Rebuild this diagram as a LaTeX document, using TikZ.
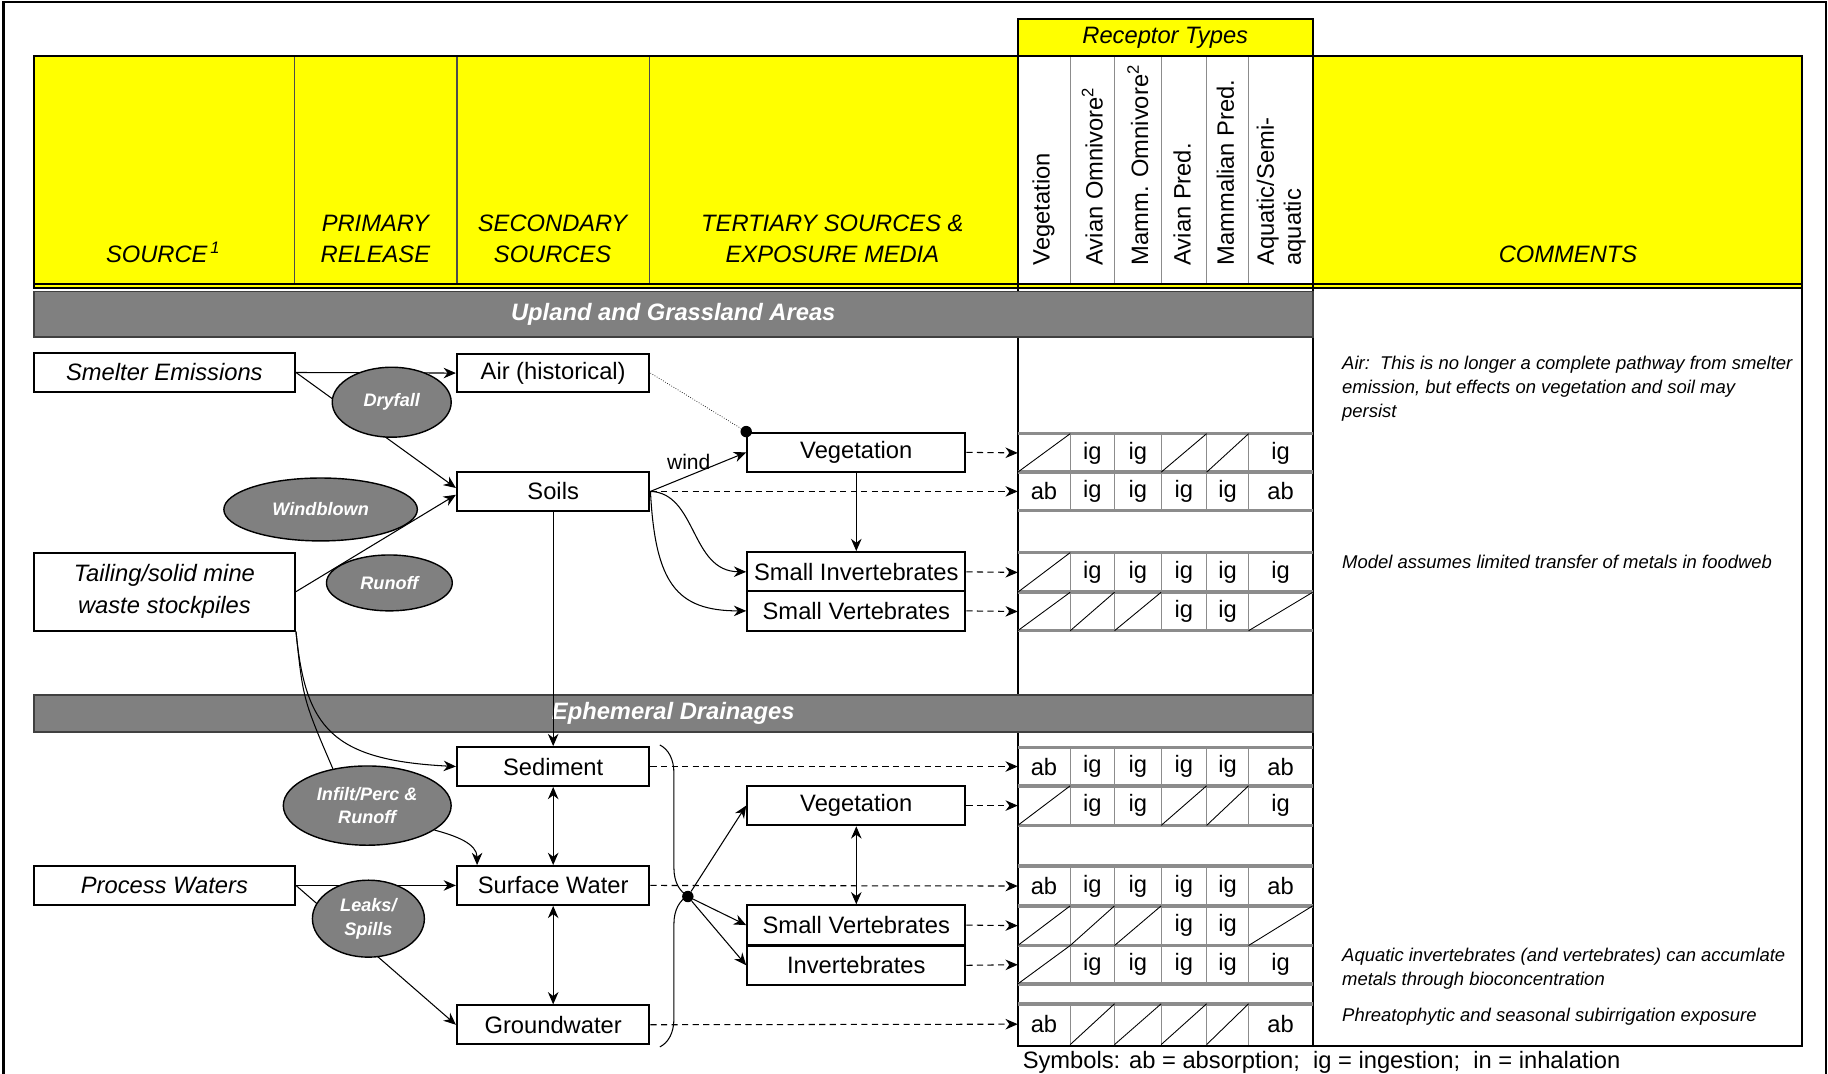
\documentclass[tikz,border=0pt]{standalone}
\usepackage{fontspec}
\setmainfont{Liberation Sans}
\usetikzlibrary{arrows.meta,shapes.geometric,decorations.pathreplacing}
\definecolor{headyellow}{RGB}{255,255,0}
\definecolor{bandgray}{RGB}{128,128,128}
\definecolor{linegray}{RGB}{140,140,140}

\begin{document}
\begin{tikzpicture}[x=0.023316cm,y=-0.023316cm,
  box/.style={draw,line width=1.2pt,fill=white,inner sep=0pt,font=\fontsize{13.5}{16}\selectfont},
  srcbox/.style={box,font=\itshape\fontsize{13.5}{18}\selectfont,minimum width=148.6pt,minimum height=21.9pt,align=center},
  midbox/.style={box,minimum width=109.5pt,minimum height=22pt},
  recbox/.style={box,minimum width=124.1pt,minimum height=22.4pt},
  oval/.style={ellipse,draw=black,line width=0.8pt,fill=bandgray,text=white,inner sep=0pt,align=center,
    font=\bfseries\itshape\fontsize{10.3}{13.3}\selectfont},
  band/.style={draw=black!75,line width=1pt,fill=bandgray,text=white,inner sep=0pt,minimum width=727.8pt,
    font=\bfseries\itshape\fontsize{13.5}{16}\selectfont},
  flow/.style={-{Stealth[length=7pt,width=6pt]},line width=0.6pt},
  both/.style={{Stealth[length=7pt,width=6pt]}-{Stealth[length=7pt,width=6pt]},line width=0.6pt},
  expo/.style={flow,dash pattern=on 3.5pt off 2.5pt},
  headtext/.style={font=\itshape\fontsize{13.5}{18}\selectfont,align=center,anchor=south,inner sep=0pt},
  rectext/.style={rotate=90,anchor=west,inner sep=0pt,align=left,font=\fontsize{13.5}{15.3}\selectfont},
  cell/.style={inner sep=0pt,font=\fontsize{13.5}{16}\selectfont},
  rowline/.style={draw=linegray,line width=2pt},
  colline/.style={draw=linegray,line width=0.5pt},
  note/.style={anchor=north west,inner sep=0pt,align=left,font=\itshape\fontsize{10.5}{13.6}\selectfont},
  dot/.style={circle,fill=black,inner sep=0pt,minimum size=6.5pt}]
\useasboundingbox (0,0) rectangle (1568,921);

%frame
\draw[line width=1.2pt] (3,940) -- (3,2) -- (1566,2) -- (1566,940);

%header
\node[draw,line width=1.2pt,fill=headyellow,minimum width=167.8pt,minimum height=21.2pt,inner sep=0pt,
  font=\itshape\fontsize{13.5}{16}\selectfont] (rtypes) at (999.5,32) {Receptor Types};
\fill[headyellow] (29,48) rectangle (1546,247);
\fill[white] (873,48) rectangle (1126,243.5);
\draw[draw=black!70,line width=0.6pt] (253,48) -- (253,243.5) (392,48) -- (392,243.5) (557,48) -- (557,243.5);
\draw[colline] (918,48) -- (918,243.5) (956,48) -- (956,243.5) (996,48) -- (996,243.5) (1035,48) -- (1035,243.5) (1071,48) -- (1071,243.5);
\draw[line width=1.2pt] (29,48) rectangle (1546,247);
\draw[line width=1.2pt] (29,243.5) -- (1546,243.5);
\draw[line width=1.2pt] (873,48) -- (873,247);
\draw[line width=1.2pt] (1126,48) -- (1126,247);

\node[headtext] (hsource) at (140,226) {SOURCE\textsuperscript{\,1}};
\node[headtext] (hprimary) at (322,226) {PRIMARY\\RELEASE};
\node[headtext] (hsecondary) at (474,226) {SECONDARY\\SOURCES};
\node[headtext] (htertiary) at (714,226) {TERTIARY SOURCES \&\\EXPOSURE MEDIA};
\node[headtext] (hcomments) at (1345,226) {COMMENTS};

\node[rectext] (rveg) at (895,228) {Vegetation};
\node[rectext] (ravo) at (937,228) {Avian Omnivore\textsuperscript{2}};
\node[rectext] (rmom) at (976,228) {Mamm. Omnivore\textsuperscript{2}};
\node[rectext] (rapr) at (1014,228) {Avian Pred.};
\node[rectext] (rmpr) at (1051,228) {Mammalian Pred.};
\node[rectext] (raqu) at (1099,228) {Aquatic/Semi-\\aquatic};

%table frame and comments box
\draw[line width=1.2pt] (873,247) -- (873,897) -- (1546,897) -- (1546,247);
\draw[line width=1.2pt] (1126,247) -- (1126,897);

%upland rows
\draw[colline] (918,372) -- (918,438) (956,372) -- (956,438) (996,372) -- (996,438) (1035,372) -- (1035,438) (1071,372) -- (1071,438);
\draw[colline] (918,474) -- (918,541) (956,474) -- (956,541) (996,474) -- (996,541) (1035,474) -- (1035,541) (1071,474) -- (1071,541);
\draw[rowline] (873,372) -- (1126,372);
\draw[rowline] (873,405) -- (1126,405);
\draw[rowline] (873,438) -- (1126,438);
\draw[rowline] (873,474) -- (1126,474);
\draw[rowline] (873,508) -- (1126,508);
\draw[rowline] (873,541) -- (1126,541);
%ephemeral rows
\draw[colline] (918,641) -- (918,708) (956,641) -- (956,708) (996,641) -- (996,708) (1035,641) -- (1035,708) (1071,641) -- (1071,708);
\draw[colline] (918,743) -- (918,844) (956,743) -- (956,844) (996,743) -- (996,844) (1035,743) -- (1035,844) (1071,743) -- (1071,844);
\draw[colline] (918,861) -- (918,896) (956,861) -- (956,896) (996,861) -- (996,896) (1035,861) -- (1035,896) (1071,861) -- (1071,896);
\draw[rowline] (873,641) -- (1126,641);
\draw[rowline] (873,674) -- (1126,674);
\draw[rowline] (873,708) -- (1126,708);
\draw[rowline] (873,743) -- (1126,743);
\draw[rowline] (873,777) -- (1126,777);
\draw[rowline] (873,811) -- (1126,811);
\draw[rowline] (873,844) -- (1126,844);
\draw[rowline] (873,861) -- (1126,861);
\draw[line width=1.2pt] (873,897) -- (1126,897);

%no pathway cells
\draw[line width=0.5pt] (873,405) -- (918,372);
\draw[line width=0.5pt] (996,405) -- (1035,372);
\draw[line width=0.5pt] (1035,405) -- (1071,372);
\draw[line width=0.5pt] (873,508) -- (918,474);
\draw[line width=0.5pt] (873,541) -- (918,508);
\draw[line width=0.5pt] (918,541) -- (956,508);
\draw[line width=0.5pt] (956,541) -- (996,508);
\draw[line width=0.5pt] (1071,541) -- (1126,508);
\draw[line width=0.5pt] (873,708) -- (918,674);
\draw[line width=0.5pt] (996,708) -- (1035,674);
\draw[line width=0.5pt] (1035,708) -- (1071,674);
\draw[line width=0.5pt] (873,811) -- (918,777);
\draw[line width=0.5pt] (918,811) -- (956,777);
\draw[line width=0.5pt] (956,811) -- (996,777);
\draw[line width=0.5pt] (1071,811) -- (1126,777);
\draw[line width=0.5pt] (873,844) -- (918,811);
\draw[line width=0.5pt] (918,896) -- (956,861);
\draw[line width=0.5pt] (956,896) -- (996,861);
\draw[line width=0.5pt] (996,896) -- (1035,861);
\draw[line width=0.5pt] (1035,896) -- (1071,861);

%exposure cells
\node[cell] (c1b) at (937,388.5) {ig};
\node[cell] (c1c) at (976,388.5) {ig};
\node[cell] (c1f) at (1098.5,388.5) {ig};
\node[cell] (c2a) at (895.5,421.5) {ab};
\node[cell] (c2b) at (937,421.5) {ig};
\node[cell] (c2c) at (976,421.5) {ig};
\node[cell] (c2d) at (1015.5,421.5) {ig};
\node[cell] (c2e) at (1053,421.5) {ig};
\node[cell] (c2f) at (1098.5,421.5) {ab};
\node[cell] (c3b) at (937,491) {ig};
\node[cell] (c3c) at (976,491) {ig};
\node[cell] (c3d) at (1015.5,491) {ig};
\node[cell] (c3e) at (1053,491) {ig};
\node[cell] (c3f) at (1098.5,491) {ig};
\node[cell] (c4d) at (1015.5,524.5) {ig};
\node[cell] (c4e) at (1053,524.5) {ig};
\node[cell] (c5a) at (895.5,657.5) {ab};
\node[cell] (c5b) at (937,657.5) {ig};
\node[cell] (c5c) at (976,657.5) {ig};
\node[cell] (c5d) at (1015.5,657.5) {ig};
\node[cell] (c5e) at (1053,657.5) {ig};
\node[cell] (c5f) at (1098.5,657.5) {ab};
\node[cell] (c6b) at (937,691) {ig};
\node[cell] (c6c) at (976,691) {ig};
\node[cell] (c6f) at (1098.5,691) {ig};
\node[cell] (c7a) at (895.5,760) {ab};
\node[cell] (c7b) at (937,760) {ig};
\node[cell] (c7c) at (976,760) {ig};
\node[cell] (c7d) at (1015.5,760) {ig};
\node[cell] (c7e) at (1053,760) {ig};
\node[cell] (c7f) at (1098.5,760) {ab};
\node[cell] (c8d) at (1015.5,794) {ig};
\node[cell] (c8e) at (1053,794) {ig};
\node[cell] (c9b) at (937,827.5) {ig};
\node[cell] (c9c) at (976,827.5) {ig};
\node[cell] (c9d) at (1015.5,827.5) {ig};
\node[cell] (c9e) at (1053,827.5) {ig};
\node[cell] (c9f) at (1098.5,827.5) {ig};
\node[cell] (c10a) at (895.5,878.5) {ab};
\node[cell] (c10f) at (1098.5,878.5) {ab};

%row entry points
\coordinate (t1) at (873,388.5);
\coordinate (t2) at (873,421.5);
\coordinate (t3) at (873,491);
\coordinate (t4) at (873,524.5);
\coordinate (t5) at (873,657.5);
\coordinate (t6) at (873,691);
\coordinate (t7) at (873,760);
\coordinate (t8) at (873,794);
\coordinate (t9) at (873,827.5);
\coordinate (t10) at (873,878.5);

%area bands
\node[band,minimum height=25.9pt] (upland) at (577.5,269.5) {Upland and Grassland Areas};
\node[band,minimum height=21.2pt] (ephemeral) at (577.5,612) {Ephemeral Drainages};

%sources and media
\node[srcbox] (smelter) at (141,319.5) {Smelter Emissions};
\node[srcbox,minimum height=44.4pt] (tailing) at (141,507.5) {Tailing/solid mine\\waste stockpiles};
\node[srcbox] (process) at (141,759.5) {Process Waters};
\node[midbox] (air) at (474.5,320) {Air (historical)};
\node[midbox] (soils) at (474.5,421.5) {Soils};
\node[midbox] (sediment) at (474.5,657.5) {Sediment};
\node[midbox] (surface) at (474.5,759.5) {Surface Water};
\node[midbox] (ground) at (474.5,879) {Groundwater};
\node[recbox] (vegup) at (734.5,388) {Vegetation};
\node[recbox] (sinvup) at (734.5,490.5) {Small Invertebrates};
\node[recbox] (svertup) at (734.5,524) {Small Vertebrates};
\node[recbox] (vegeph) at (734.5,691) {Vegetation};
\node[recbox] (sverteph) at (734.5,793.5) {Small Vertebrates};
\node[recbox] (inveph) at (734.5,828) {Invertebrates};

%upland pathways
\draw[flow] (smelter.east) -- (air.west);
\draw[flow] (smelter.east) -- (soils.178);
\draw[flow] (tailing.east) -- (soils.182);
\node[dot] (airdot) at (vegup.north west) {};
\draw[line width=0.4pt,densely dotted] (air.east) -- (airdot);
\draw[flow] (soils.east) -- node[pos=0.4,above,font=\fontsize{12}{14}\selectfont] (wind) {wind} (vegup.west);
\draw[flow] (soils.east) .. controls (598,423) and (592,490) .. (sinvup.west);
\draw[flow] (soils.east) .. controls (562,500) and (580,524) .. (svertup.west);
\draw[flow] (vegup) -- (sinvup);
\draw[expo] (soils.east) -- (t2);
\draw[expo] (vegup.east) -- (t1);
\draw[expo] (sinvup.east) -- (t3);
\draw[expo] (svertup.east) -- (t4);

%drainage pathways
\draw[flow] (soils.south) -- (sediment.north);
\draw[flow] (tailing.south east) .. controls (262,625) and (285,652) .. (sediment.west);
\draw[flow] (process.east) -- (surface.west);
\draw[flow] (process.east) -- (ground.west);
\draw[both] (sediment) -- (surface);
\draw[both] (surface) -- (ground);
\draw[line width=0.6pt,decorate,decoration={brace,amplitude=16pt}] (566,639) -- (566,898);
\node[dot] (hub) at (590,769) {};
\draw[flow] (hub) -- (vegeph.west);
\draw[flow] (hub) -- (sverteph.west);
\draw[flow] (hub) -- (inveph.west);
\draw[both] (vegeph) -- (sverteph);
\draw[expo] (sediment.east) -- (t5);
\draw[expo] (vegeph.east) -- (t6);
\draw[expo] (surface.east) -- (t7);
\draw[expo] (sverteph.east) -- (t8);
\draw[expo] (inveph.east) -- (t9);
\draw[expo] (ground.east) -- (t10);

%release mechanisms
\node[oval,minimum width=67.7pt,minimum height=39.8pt] (dryfall) at (336,345) {Dryfall};
\node[oval,minimum width=110.1pt,minimum height=35.8pt] (windblown) at (275,437) {Windblown};
\node[oval,minimum width=71.6pt,minimum height=31.8pt] (runoff) at (334,500) {Runoff};
\node[oval,minimum width=95.5pt,minimum height=45.1pt] (infilt) at (315,691) {Infilt/Perc \&\\Runoff};
\node[oval,minimum width=63.7pt,minimum height=43.8pt] (leaks) at (316,788) {Leaks/\\Spills};
\draw[line width=0.6pt] (tailing.south east) .. controls (260,600) .. (infilt.133);
\draw[flow] (infilt.-20) to[out=-15,in=90] (surface.165);

%comments
\node[note] (cmair) at (1151,305) {Air:\ \ This is no longer a complete pathway from smelter\\emission, but effects on vegetation and soil may\\persist};
\node[note] (cmfood) at (1151,476) {Model assumes limited transfer of metals in foodweb};
\node[note] (cmaqua) at (1151,813) {Aquatic invertebrates (and vertebrates) can accumlate\\metals through bioconcentration};
\node[note] (cmphre) at (1151,864) {Phreatophytic and seasonal subirrigation exposure};

%legend
\node[anchor=west,inner sep=0pt,font=\fontsize{13.5}{16}\selectfont] (legend) at (877,911) {Symbols: ab = absorption;\ \ ig = ingestion;\ \ in = inhalation};
\end{tikzpicture}
\end{document}
